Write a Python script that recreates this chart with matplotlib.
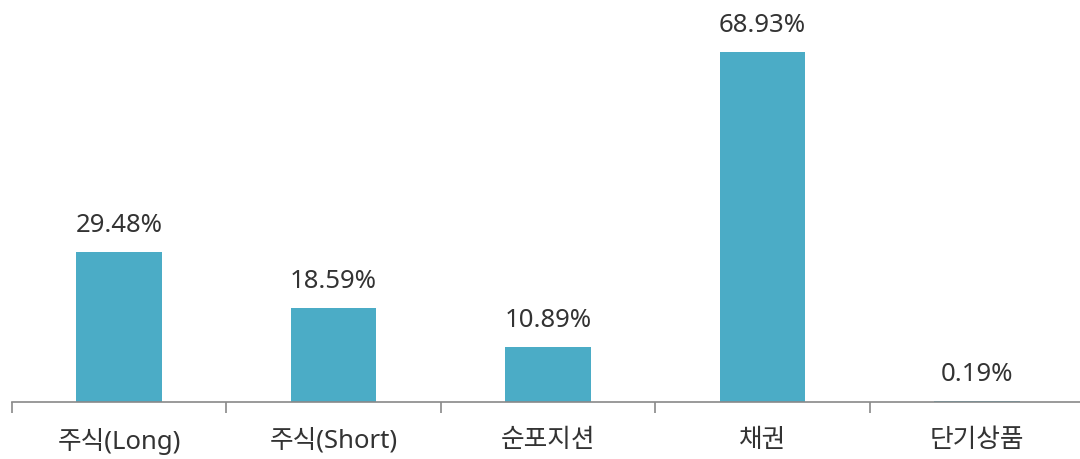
import matplotlib
matplotlib.use("Agg")
import matplotlib.pyplot as plt

plt.rcParams["font.family"] = ["Noto Sans", "Noto Sans CJK KR", "DejaVu Sans"]

categories = ["주식(Long)", "주식(Short)", "순포지션", "채권", "단기상품"]
values = [29.48, 18.59, 10.89, 68.93, 0.19]
value_labels = ["29.48%", "18.59%", "10.89%", "68.93%", "0.19%"]

BAR_COLOR = "#4BACC6"
TEXT_COLOR = "#333333"
AXIS_COLOR = "#898989"

fig = plt.figure(figsize=(10.8, 4.59), dpi=100)
ax = fig.add_axes([12 / 1080, 57 / 459, 1072 / 1080, 402 / 459])

x = list(range(len(categories)))
bars = ax.bar(x, values, width=0.4, color=BAR_COLOR)
# value labels above each bar
for xi, v, lab in zip(x, values, value_labels):
    ax.annotate(lab, (xi, v), xytext=(0, 10), textcoords="offset points",
                ha="center", va="bottom", fontsize=18.5, color=TEXT_COLOR)

ax.set_xlim(-0.5, len(categories) - 0.5)
ax.set_ylim(0, 79.2)
# major ticks sit between categories, labels go on minor ticks at bar centres
ax.set_xticks([i - 0.5 for i in range(len(categories) + 1)])
ax.set_xticklabels([])
ax.set_xticks(x, minor=True)
ax.set_xticklabels(categories, minor=True, fontsize=18.5, color=TEXT_COLOR)
ax.tick_params(axis="x", which="major", length=8, width=1.2, color=AXIS_COLOR)
ax.tick_params(axis="x", which="minor", length=0, pad=19)
ax.set_yticks([])
for side in ["top", "right", "left"]:
    ax.spines[side].set_visible(False)
ax.spines["bottom"].set_color(AXIS_COLOR)
ax.spines["bottom"].set_linewidth(1.2)

fig.savefig("out.png", dpi=100)
